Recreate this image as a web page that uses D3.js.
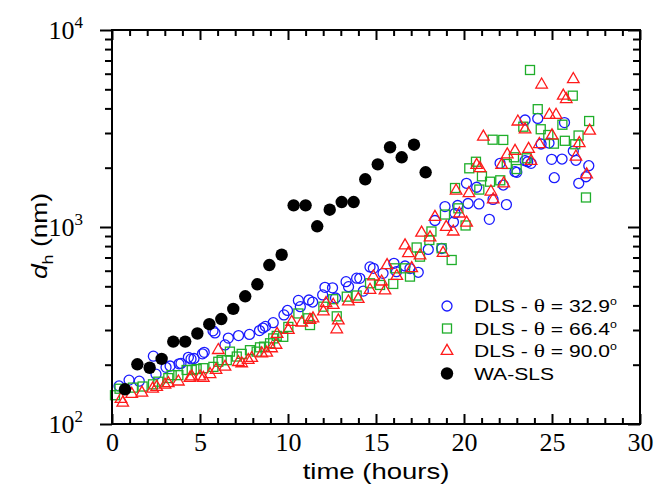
<!DOCTYPE html>
<html lang="en">
<head>
<meta charset="UTF-8">
<title>Hydrodynamic diameter vs time</title>
<script src="https://d3js.org/d3.v7.min.js"></script>
<style>
  body { margin: 0; background: #fff; }
  svg { display: block; }
  .axis path.domain { display: none; }
  .axis line { stroke: #000; stroke-width: 2px; }
  .axis text { font-family: "Liberation Serif", serif; font-size: 26px; fill: #000; }
  .sans { font-family: "Liberation Sans", Arial, sans-serif; fill: #000; }
</style>
</head>
<body>
<script>
const width = 654, height = 486;

// DLS, theta = 32.9 deg (blue circles)
const blueTime = [0.40,0.97,1.55,2.35,2.50,3.07,3.30,3.81,3.92,4.34,4.49,4.66,5.14,5.24,5.74,5.85,6.42,6.61,7.19,7.81,8.38,8.58,8.72,9.16,9.77,9.97,10.59,10.70,11.19,11.40,11.97,12.10,12.53,12.70,13.30,13.44,13.90,14.08,14.28,14.66,14.85,15.40,16.02,16.16,16.65,16.93,17.40,17.97,18.73,18.35,18.92,19.40,19.49,19.64,20.14,20.23,20.72,20.85,21.44,21.65,22.05,22.23,22.41,22.90,23.00,23.47,23.62,23.81,23.47,24.19,25.71,24.38,24.83,24.98,25.57,26.21,26.36,27.09,26.93,26.52,25.13];
const blueSize = [156,167,165,221,179,194,197,202,203,218,214,215,227,231,297,290,252,273,281,285,298,307,313,327,358,377,424,394,426,416,452,494,491,436,528,498,550,549,473,627,617,582,654,593,634,615,589,769,778,1079,1270,1060,1174,1286,1667,1316,1591,1309,1094,1380,2105,1633,1300,1909,1895,2171,2144,2105,3493,3556,3390,2638,2668,2206,2213,2430,2181,2047,1799,1667,1779];

// DLS, theta = 66.4 deg (green squares)
const greenTime = [0.17,0.43,1.19,1.74,2.33,2.63,3.20,3.39,3.77,4.24,4.53,4.81,5.19,5.76,6.04,6.23,6.52,6.70,7.09,7.37,7.84,8.22,8.41,8.64,8.98,9.16,9.36,9.73,10.02,10.59,11.15,11.25,12.01,12.57,12.77,13.34,13.90,14.66,15.23,15.98,16.08,16.65,16.93,17.31,17.50,18.03,18.15,18.73,18.92,19.30,19.49,19.68,20.09,20.30,20.68,20.87,21.02,21.48,21.63,22.06,22.23,22.43,22.84,22.99,23.37,23.56,23.75,24.19,24.36,24.79,25.11,25.59,25.73,26.18,26.51,26.32,26.93,27.11];
const greenSize = [140,151,153,155,159,164,171,177,177,188,188,190,192,195,207,211,211,233,220,227,237,233,245,247,257,272,280,277,311,364,344,318,394,430,352,443,449,518,508,514,617,617,560,787,707,859,949,780,1157,680,1577,1244,1018,1986,2144,1549,1808,1698,2774,1726,2767,2089,2259,1969,3229,2233,6266,3963,3135,2931,2649,3305,2739,4642,2913,2630,1412,3451];

// DLS, theta = 90.0 deg (red triangles)
const redTime = [0.51,0.61,1.12,1.70,2.31,2.54,3.01,3.20,3.77,4.43,4.53,5.00,5.19,5.57,5.91,6.04,6.42,7.18,7.37,7.74,7.94,8.51,8.79,9.07,9.32,9.38,10.02,10.21,10.78,11.25,11.42,12.01,12.16,12.57,12.86,12.77,13.43,13.99,14.66,14.85,15.32,15.51,15.63,16.18,16.65,16.84,17.03,17.50,17.59,18.07,18.35,18.81,18.99,19.39,19.74,19.55,20.15,20.28,20.72,20.91,21.10,21.53,21.66,22.14,22.26,22.46,22.90,23.06,23.47,23.67,23.81,24.28,24.41,24.85,25.00,25.23,25.64,25.81,26.21,26.36,26.55,26.97,27.14];
const redSize = [134,128,142,144,151,154,158,161,164,171,174,174,171,179,188,237,195,206,203,211,216,228,230,242,252,286,300,329,327,337,343,372,410,402,335,302,418,431,479,560,528,476,639,564,805,735,617,717,935,884,1124,738,1000,947,1169,1528,1051,1483,2064,1986,2872,1511,1380,2064,1663,2333,2430,3425,3126,2489,2163,2632,5276,3704,2913,3704,4636,4454,5626,2274,2660,1845,3077];

// WA-SLS (black dots)
const slsTime = [0.74,1.44,2.14,2.82,3.48,4.16,4.85,5.53,6.21,6.89,7.57,8.26,8.94,9.64,10.32,11.00,11.66,12.37,13.05,13.73,14.39,15.10,15.80,16.46,17.16,17.82];
const slsSize = [150,201,193,214,262,262,288,321,341,384,445,512,641,723,1288,1288,1008,1224,1339,1339,1746,2080,2540,2259,2617,1895];

const xMajor = [0, 5, 10, 15, 20, 25, 30];
const xMinor = d3.range(0, 31).filter(d => d % 5 !== 0);
const yMajor = [100, 1000, 10000];
const yMinor = [200,300,400,500,600,700,800,900,2000,3000,4000,5000,6000,7000,8000,9000];

const legendAngles = ["32.9", "66.4", "90.0"];
const legendSLS = "WA-SLS";

const svg = d3.select("body").append("svg")
    .attr("width", width)
    .attr("height", height);

const x = d3.scaleLinear().domain([0, 30]).range([112, 640]);
const y = d3.scaleLog().domain([100, 10000]).range([424, 30]);

// axes: ticks in on bottom/top/right, out on left
svg.append("g").attr("class", "axis").attr("transform", "translate(0,424)")
    .call(d3.axisBottom(x).tickValues(xMinor).tickSize(-6).tickFormat(""));
svg.append("g").attr("class", "axis").attr("transform", "translate(0,424)")
    .call(d3.axisBottom(x).tickValues(xMajor).tickSize(-10).tickPadding(9).tickFormat(d3.format("d")));
svg.append("g").attr("class", "axis").attr("transform", "translate(0,30)")
    .call(d3.axisTop(x).tickValues(xMinor).tickSize(-6).tickFormat(""));
svg.append("g").attr("class", "axis").attr("transform", "translate(0,30)")
    .call(d3.axisTop(x).tickValues(xMajor).tickSize(-10).tickFormat(""));
svg.append("g").attr("class", "axis").attr("transform", "translate(112,0)")
    .call(d3.axisLeft(y).tickValues(yMinor).tickSize(7).tickFormat(""));
const yAxis = svg.append("g").attr("class", "axis").attr("transform", "translate(112,0)")
    .call(d3.axisLeft(y).tickValues(yMajor).tickSize(12).tickPadding(17).tickFormat(""));
svg.append("g").attr("class", "axis").attr("transform", "translate(640,0)")
    .call(d3.axisRight(y).tickValues(yMinor).tickSize(-7).tickFormat(""));
svg.append("g").attr("class", "axis").attr("transform", "translate(640,0)")
    .call(d3.axisRight(y).tickValues(yMajor).tickSize(-12).tickFormat(""));

// 10^n labels
yAxis.selectAll(".tick text").each(function(d) {
    const t = d3.select(this);
    t.append("tspan").text("10");
    t.append("tspan").attr("font-size", "17px").attr("dy", "-11").text(Math.round(Math.log10(d)));
});

// data
const pts = (tt, ss) => tt.map((t, i) => ({t: t, s: ss[i]}));

svg.append("g").selectAll("circle").data(pts(blueTime, blueSize)).join("circle")
    .attr("cx", d => x(d.t)).attr("cy", d => y(d.s)).attr("r", 5)
    .attr("fill", "none").attr("stroke", "#1a1aff").attr("stroke-width", 1.3);

svg.append("g").selectAll("rect").data(pts(greenTime, greenSize)).join("rect")
    .attr("x", d => x(d.t) - 4.5).attr("y", d => y(d.s) - 4.5)
    .attr("width", 9).attr("height", 9)
    .attr("fill", "none").attr("stroke", "#1fae2a").attr("stroke-width", 1.3);

const tri = d3.symbol(d3.symbolTriangle).size(58);
svg.append("g").selectAll("path").data(pts(redTime, redSize)).join("path")
    .attr("transform", d => `translate(${x(d.t)},${y(d.s)})`)
    .attr("d", tri)
    .attr("fill", "none").attr("stroke", "#ff1a1a").attr("stroke-width", 1.3);

svg.append("g").selectAll("circle").data(pts(slsTime, slsSize)).join("circle")
    .attr("cx", d => x(d.t)).attr("cy", d => y(d.s)).attr("r", 6.2)
    .attr("fill", "#000");

// frame
svg.append("rect").attr("x", 112).attr("y", 30).attr("width", 528).attr("height", 394)
    .attr("fill", "none").attr("stroke", "#000").attr("stroke-width", 2);

// axis titles
svg.append("text").attr("class", "sans")
    .attr("transform", "translate(376,479) scale(1.25,1)")
    .attr("text-anchor", "middle").attr("font-size", "22px")
    .text("time (hours)");

const yt = svg.append("text").attr("class", "sans")
    .attr("transform", "translate(47,236) rotate(-90) scale(1.2,1)")
    .attr("text-anchor", "middle").attr("font-size", "22px");
yt.append("tspan").attr("font-style", "italic").text("d");
yt.append("tspan").attr("font-size", "15px").attr("dy", 6).text("h");
yt.append("tspan").attr("dy", -6).text(" (nm)");

// legend
const lx = 447, ly0 = 306, lstep = 22.5;
const lg = svg.append("g");
lg.append("circle").attr("cx", lx).attr("cy", ly0).attr("r", 5)
    .attr("fill", "none").attr("stroke", "#1a1aff").attr("stroke-width", 1.3);
lg.append("rect").attr("x", lx - 4.5).attr("y", ly0 + lstep - 4.5).attr("width", 9).attr("height", 9)
    .attr("fill", "none").attr("stroke", "#1fae2a").attr("stroke-width", 1.3);
lg.append("path").attr("transform", `translate(${lx},${ly0 + 2 * lstep})`).attr("d", tri)
    .attr("fill", "none").attr("stroke", "#ff1a1a").attr("stroke-width", 1.3);
lg.append("circle").attr("cx", lx).attr("cy", ly0 + 3 * lstep).attr("r", 6.2).attr("fill", "#000");

legendAngles.forEach((a, i) => {
    const t = lg.append("text").attr("class", "sans")
        .attr("transform", `translate(474,${ly0 + i * lstep + 6}) scale(1.24,1)`)
        .attr("font-size", "17px");
    t.append("tspan").text("DLS - ");
    t.append("tspan").attr("font-family", "Liberation Serif, serif").attr("font-size", "19px").text("θ");
    t.append("tspan").text(" = " + a);
    t.append("tspan").attr("font-size", "10px").attr("dy", -7).text("o");
});
lg.append("text").attr("class", "sans")
    .attr("transform", `translate(474,${ly0 + 3 * lstep + 6}) scale(1.24,1)`)
    .attr("font-size", "17px")
    .text(legendSLS);
</script>
</body>
</html>
